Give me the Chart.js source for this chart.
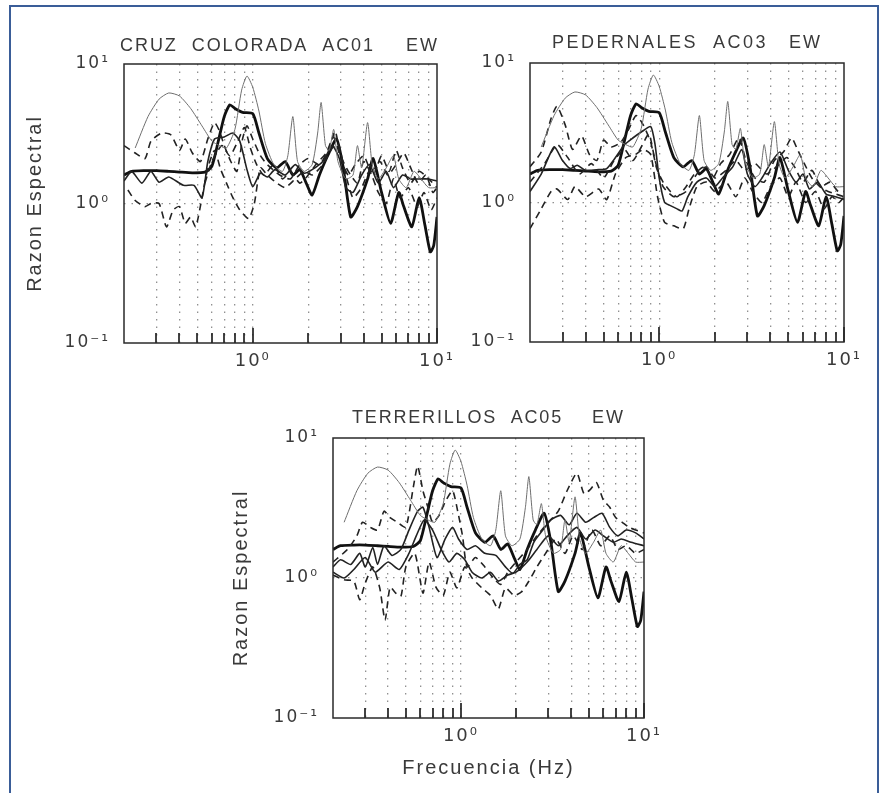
<!DOCTYPE html>
<html>
<head>
<meta charset="utf-8">
<script src="https://cdn.jsdelivr.net/npm/chart.js@4.4.1/dist/chart.umd.min.js"></script>
<style>
  html, body { margin: 0; padding: 0; background: #fff; }
  #page { position: relative; width: 882px; height: 793px; overflow: hidden; background: #fff; }
  #frame { position: absolute; left: 9px; top: 5px; width: 870px; height: 830px; border: 2px solid #3a5d98; box-sizing: border-box; }
  canvas { position: absolute; left: 0; top: 0; }
</style>
</head>
<body>
<div id="page">
  <div id="frame"></div>
  <canvas id="cruz" width="882" height="793"></canvas>
  <canvas id="peder" width="882" height="793"></canvas>
  <canvas id="terr" width="882" height="793"></canvas>
</div>
<script>
// frequency ticks (Hz) and labelled decades
const freqTicks = [0.3, 0.4, 0.5, 0.6, 0.7, 0.8, 0.9, 1, 2, 3, 4, 5, 6, 7, 8, 9, 10];
const ratioTicks = [0.1, 1, 10];
const decadeLabels = { '0.1': '10⁻¹', '1': '10⁰', '10': '10¹' };

// reference curves, identical in the three stations: [freq Hz, spectral ratio]
const refThin = [[0.23,2.5],[0.27,4.2],[0.31,5.6],[0.35,6.2],[0.4,5.9],[0.46,4.8],[0.53,3.6],[0.6,2.8],[0.66,2.6],[0.72,2.5],[0.8,3.4],[0.87,6.5],[0.93,8.2],[1.0,6.8],[1.08,4.6],[1.17,2.7],[1.3,1.9],[1.45,1.7],[1.55,2.2],[1.65,4.2],[1.75,2.0],[1.9,1.7],[2.1,1.9],[2.25,3.2],[2.35,5.3],[2.48,2.6],[2.6,2.4],[2.75,3.4],[2.9,2.0],[3.2,1.5],[3.5,1.6],[3.7,2.6],[3.9,1.8],[4.2,3.8],[4.45,1.9],[4.8,1.5],[5.3,1.8],[5.8,2.2],[6.2,1.5],[6.8,1.3],[7.5,1.7],[8.2,1.5],[9,1.3],[10,1.3]];
const refThick = [[0.2,1.6],[0.22,1.7],[0.26,1.72],[0.3,1.72],[0.35,1.7],[0.4,1.68],[0.47,1.66],[0.55,1.68],[0.6,1.85],[0.65,2.8],[0.7,4.2],[0.75,5.1],[0.8,4.8],[0.88,4.5],[1.0,4.4],[1.08,3.2],[1.2,2.1],[1.35,1.8],[1.5,2.0],[1.65,1.6],[1.8,1.75],[1.95,1.4],[2.1,1.15],[2.3,1.6],[2.55,2.2],[2.85,2.9],[3.1,1.8],[3.4,0.8],[3.7,0.95],[4.2,1.5],[4.5,2.1],[5.0,1.2],[5.6,0.72],[6.2,1.2],[6.6,0.95],[7.3,0.68],[8.0,1.1],[8.6,0.7],[9.2,0.45],[9.6,0.5],[10,0.8]];

// CRUZ COLORADA AC01
const cruzSolid = [[0.2,1.45],[0.22,1.7],[0.25,1.4],[0.28,1.7],[0.31,1.42],[0.35,1.55],[0.42,1.35],[0.48,1.35],[0.53,1.1],[0.57,2.0],[0.62,2.9],[0.7,3.0],[0.78,3.2],[0.85,2.8],[0.93,1.75],[1.0,1.32],[1.1,1.65],[1.2,1.55],[1.32,1.75],[1.5,1.6],[1.7,1.9],[1.9,1.65],[2.1,1.75],[2.4,2.0],[2.7,2.6],[2.95,2.1],[3.2,1.3],[3.5,1.2],[3.9,1.6],[4.3,1.9],[4.8,1.4],[5.3,1.7],[5.8,1.3],[6.5,1.6],[7.2,1.5],[8,1.5],[9,1.5],[10,1.45]];
const cruzDashHi = [[0.2,2.6],[0.23,2.3],[0.26,2.1],[0.28,2.8],[0.32,3.2],[0.36,3.1],[0.4,2.4],[0.43,2.9],[0.47,2.3],[0.52,2.0],[0.57,2.9],[0.62,3.8],[0.66,3.3],[0.7,2.6],[0.76,2.0],[0.82,1.7],[0.88,2.9],[0.93,3.6],[1.0,2.9],[1.1,2.2],[1.2,1.9],[1.4,1.6],[1.6,1.5],[1.8,1.9],[2.0,2.1],[2.3,1.9],[2.6,2.5],[2.8,3.3],[3.0,2.2],[3.3,1.7],[3.7,1.4],[4.0,2.0],[4.5,1.6],[5.0,2.2],[5.5,1.7],[6.0,2.4],[6.5,1.8],[7.2,1.4],[8,1.7],[9,1.5],[10,1.3]];
const cruzDashLo = [[0.21,1.25],[0.23,1.05],[0.26,0.95],[0.28,1.0],[0.31,1.0],[0.34,0.68],[0.37,0.9],[0.4,0.95],[0.43,0.72],[0.46,0.8],[0.49,0.68],[0.53,1.1],[0.57,1.8],[0.62,2.4],[0.67,1.75],[0.72,1.4],[0.78,1.1],[0.85,0.9],[0.95,0.78],[1.02,1.0],[1.1,1.8],[1.2,1.6],[1.35,1.4],[1.5,1.3],[1.7,1.5],[1.9,1.7],[2.1,1.6],[2.4,1.9],[2.7,2.5],[2.9,2.7],[3.2,1.6],[3.5,1.1],[3.9,1.3],[4.3,1.7],[4.8,1.2],[5.3,1.0],[5.8,1.5],[6.3,1.1],[7.0,1.3],[7.8,0.95],[8.5,1.2],[9.3,0.9],[10,1.1]];
const cruzDashMid = [[0.55,1.4],[0.6,2.0],[0.68,2.6],[0.75,2.2],[0.82,2.7],[0.9,3.5],[0.97,2.5],[1.05,1.9],[1.15,1.6],[1.3,1.9],[1.45,1.5],[1.6,1.7],[1.8,1.4],[2.0,1.6],[2.2,1.9],[2.5,2.3],[2.75,3.0],[3.0,2.1],[3.3,1.6],[3.6,1.9],[4.0,2.2],[4.4,1.7],[4.9,2.0],[5.4,1.6],[6.0,1.9],[6.6,2.3],[7.2,1.8],[7.9,1.4],[8.7,1.6],[9.5,1.2],[10,1.3]];

// PEDERNALES AC03
const pederSolid = [[0.2,1.2],[0.23,1.6],[0.27,2.5],[0.3,2.0],[0.33,1.75],[0.36,1.85],[0.4,1.7],[0.47,1.72],[0.52,1.75],[0.58,2.1],[0.65,2.6],[0.72,2.9],[0.8,3.2],[0.9,3.5],[0.95,2.6],[1.0,1.5],[1.07,1.0],[1.15,0.95],[1.25,0.9],[1.33,0.87],[1.43,1.1],[1.6,1.4],[1.8,1.5],[2.0,1.3],[2.2,1.5],[2.5,1.8],[2.8,2.4],[3.0,1.6],[3.3,1.3],[3.6,1.5],[4.0,1.9],[4.5,2.3],[5.0,1.7],[5.5,1.4],[6.0,1.6],[6.5,1.25],[7.2,1.4],[8,1.15],[9,1.1],[10,1.05]];
const pederDashHi = [[0.2,1.8],[0.23,2.3],[0.26,4.0],[0.28,4.9],[0.31,3.6],[0.34,2.4],[0.38,3.0],[0.42,2.2],[0.46,2.0],[0.5,2.8],[0.55,2.5],[0.62,2.7],[0.68,3.3],[0.75,4.2],[0.82,3.6],[0.9,2.7],[0.97,1.75],[1.05,1.4],[1.15,1.2],[1.25,1.1],[1.4,1.3],[1.55,1.6],[1.75,1.8],[1.95,1.5],[2.15,1.9],[2.4,2.2],[2.7,2.9],[2.95,2.0],[3.3,1.5],[3.7,1.4],[4.2,2.0],[4.7,2.3],[5.2,2.9],[5.6,2.4],[6.1,1.9],[6.7,1.5],[7.4,1.3],[8.2,1.2],[9,1.15],[10,1.1]];
const pederDashLo = [[0.2,0.65],[0.23,0.9],[0.26,1.2],[0.28,1.25],[0.32,1.05],[0.35,1.3],[0.4,1.1],[0.47,1.25],[0.52,1.05],[0.58,1.6],[0.66,2.1],[0.74,2.2],[0.82,2.4],[0.9,2.2],[0.98,1.1],[1.07,0.72],[1.2,0.68],[1.35,0.65],[1.45,0.9],[1.6,1.3],[1.8,1.4],[2.0,1.2],[2.3,1.4],[2.6,1.1],[2.9,1.5],[3.2,1.2],[3.6,1.0],[4.0,1.3],[4.5,1.5],[5.0,1.1],[5.5,1.4],[6.2,1.0],[7.0,1.2],[7.8,0.9],[8.6,1.1],[9.4,1.0],[10,1.1]];
const pederDashMid = [[0.2,1.4],[0.24,1.9],[0.28,2.6],[0.32,2.1],[0.37,1.6],[0.43,1.9],[0.5,1.5],[0.57,2.0],[0.65,2.4],[0.72,2.0],[0.8,2.5],[0.88,3.1],[0.95,2.0],[1.05,1.3],[1.2,1.1],[1.4,1.2],[1.6,1.6],[1.8,1.8],[2.0,1.5],[2.3,1.7],[2.6,2.0],[2.9,1.7],[3.3,1.9],[3.8,1.6],[4.3,1.8],[4.9,2.1],[5.4,1.8],[6.0,1.4],[6.7,1.7],[7.5,1.3],[8.4,1.4],[9.3,1.2],[10,1.2]];

// TERRERILLOS AC05
const terrSolidA = [[0.2,1.2],[0.22,1.35],[0.25,1.25],[0.28,1.5],[0.3,1.2],[0.33,1.65],[0.35,1.25],[0.38,1.7],[0.42,1.45],[0.47,1.6],[0.52,2.2],[0.58,3.0],[0.62,3.2],[0.67,2.3],[0.74,1.4],[0.82,1.9],[0.9,2.3],[0.97,1.9],[1.08,1.6],[1.2,1.7],[1.35,1.5],[1.55,1.45],[1.75,1.2],[1.92,1.08],[2.1,1.25],[2.3,1.35],[2.5,1.8],[2.8,2.2],[3.1,2.6],[3.5,2.8],[3.9,2.4],[4.3,2.9],[4.8,2.5],[5.3,2.7],[5.9,2.9],[6.5,2.3],[7.2,2.0],[8,2.2],[9,2.1],[10,1.9]];
const terrSolidB = [[0.2,1.1],[0.23,1.0],[0.26,1.15],[0.3,1.4],[0.34,1.1],[0.4,1.3],[0.46,1.15],[0.52,1.5],[0.57,2.0],[0.63,2.6],[0.7,2.2],[0.78,1.6],[0.86,1.3],[0.95,1.5],[1.05,1.35],[1.15,1.1],[1.3,1.0],[1.45,1.1],[1.6,0.95],[1.8,1.05],[2.0,1.1],[2.3,1.3],[2.6,1.6],[3.0,2.0],[3.4,1.7],[3.8,2.0],[4.3,2.3],[4.8,1.9],[5.4,2.2],[6.0,2.0],[6.8,1.8],[7.5,1.9],[8.5,1.8],[10,1.7]];
const terrDashHi = [[0.2,1.3],[0.24,1.6],[0.27,2.0],[0.29,2.5],[0.32,2.3],[0.35,2.2],[0.38,3.0],[0.41,2.7],[0.45,2.5],[0.5,2.3],[0.55,4.5],[0.58,6.3],[0.62,4.2],[0.66,3.2],[0.7,2.5],[0.76,2.8],[0.82,3.5],[0.9,4.2],[0.96,3.0],[1.02,2.0],[1.08,1.2],[1.2,1.4],[1.35,1.2],[1.5,1.0],[1.65,0.9],[1.8,1.1],[2.0,1.3],[2.3,1.6],[2.6,2.0],[3.0,2.5],[3.4,3.0],[3.8,4.2],[4.3,5.6],[4.7,4.0],[5.1,4.3],[5.5,4.8],[6.0,3.6],[6.5,3.2],[7.0,2.7],[7.6,2.5],[8.3,2.3],[9,2.2],[10,2.1]];
const terrDashLo = [[0.2,1.05],[0.23,0.97],[0.26,0.95],[0.28,0.7],[0.3,0.92],[0.33,1.2],[0.36,0.85],[0.385,0.5],[0.41,0.86],[0.44,0.78],[0.47,0.74],[0.5,1.2],[0.56,1.5],[0.62,0.78],[0.67,1.3],[0.73,0.86],[0.8,0.75],[0.87,1.1],[0.95,0.85],[1.05,1.2],[1.15,1.0],[1.3,0.85],[1.45,0.75],[1.6,0.6],[1.75,0.85],[1.95,0.75],[2.15,0.8],[2.35,0.95],[2.6,1.2],[2.9,1.5],[3.3,1.9],[3.7,1.5],[4.1,2.0],[4.6,1.6],[5.2,2.2],[5.8,1.7],[6.5,2.0],[7.2,1.6],[8.0,1.7],[9,1.5],[10,1.6]];

// line styles
const styles = {
    thin:  { borderColor: '#6e6e6e', borderWidth: 1 },
    thick: { borderColor: '#111', borderWidth: 2.8 },
    solid: { borderColor: '#222', borderWidth: 1.6 },
    dash:  { borderColor: '#222', borderWidth: 1.6, borderDash: [7, 5] }
};

function series(points, kind) {
    return Object.assign({
        data: points.map(p => ({ x: p[0], y: p[1] })),
        pointRadius: 0,
        tension: 0.2,
        fill: false
    }, styles[kind]);
}

// frame, inward frequency ticks and station title
const panelDecor = {
    id: 'panelDecor',
    beforeDraw(chart) {
        chart.ctx.letterSpacing = '2px';
    },
    afterDraw(chart, args, opts) {
        const { ctx, chartArea: a, scales: { x } } = chart;
        ctx.save();
        ctx.strokeStyle = '#222';
        ctx.lineWidth = 1.7;
        freqTicks.forEach(f => {
            const px = Math.round(x.getPixelForValue(f));
            const len = (f === 1 || f === 10) ? 15 : 10;
            ctx.beginPath();
            ctx.moveTo(px, a.bottom);
            ctx.lineTo(px, a.bottom - len);
            ctx.stroke();
        });
        ctx.lineWidth = 1.5;
        ctx.strokeStyle = '#2a2a2a';
        ctx.strokeRect(a.left, a.top, a.right - a.left, a.bottom - a.top);

        ctx.fillStyle = '#3a3a3a';
        ctx.font = '18px "Liberation Sans", Arial, sans-serif';
        ctx.textBaseline = 'alphabetic';
        ctx.textAlign = 'left';
        ctx.letterSpacing = '0px';
        const w = ctx.measureText(opts.name).width;
        ctx.letterSpacing = ((opts.nameWidth - w) / opts.name.length) + 'px';
        ctx.fillText(opts.name, opts.nameX, opts.baseY);
        ctx.letterSpacing = '2px';
        ctx.textAlign = 'right';
        ctx.fillText('EW', opts.compRight + 2, opts.baseY);
        ctx.restore();
    }
};

const tickFont = { family: '"DejaVu Sans", sans-serif', size: 17 };
const titleFont = { family: '"Liberation Sans", Arial, sans-serif', size: 20 };

function makePanel(id, box, sets, title, yW, xH, showY, showX) {
    return new Chart(document.getElementById(id), {
        type: 'line',
        data: { datasets: sets },
        plugins: [panelDecor],
        options: {
            responsive: false,
            animation: false,
            events: [],
            layout: { padding: { left: box.left - yW, top: box.top, right: 882 - box.right, bottom: 793 - box.bottom - xH } },
            plugins: { legend: { display: false }, tooltip: { enabled: false }, panelDecor: title },
            scales: {
                x: {
                    type: 'logarithmic', min: 0.2, max: 10,
                    afterBuildTicks: s => { s.ticks = freqTicks.map(v => ({ value: v })); },
                    afterFit: s => { s.height = xH; },
                    ticks: {
                        autoSkip: false, maxRotation: 0, minRotation: 0, padding: 8,
                        color: '#3a3a3a', font: { family: tickFont.family, size: 18 },
                        callback: v => decadeLabels[String(v)] || ''
                    },
                    grid: {
                        drawTicks: false, lineWidth: 1.3,
                        color: c => (c.tick && c.tick.value === 10) ? 'rgba(0,0,0,0)' : 'rgba(70,70,70,0.6)'
                    },
                    border: { display: false, dash: [1.5, 6] },
                    title: { display: showX, text: 'Frecuencia (Hz)', color: '#3a3a3a', font: titleFont, padding: 0 }
                },
                y: {
                    type: 'logarithmic', min: 0.1, max: 10,
                    afterBuildTicks: s => { s.ticks = ratioTicks.map(v => ({ value: v })); },
                    afterFit: s => { s.width = yW; },
                    ticks: {
                        padding: 14, color: '#3a3a3a', font: tickFont,
                        callback: v => decadeLabels[String(v)] || ''
                    },
                    grid: {
                        drawTicks: false, lineWidth: 1.3,
                        color: c => (c.tick && c.tick.value === 1) ? 'rgba(70,70,70,0.6)' : 'rgba(0,0,0,0)'
                    },
                    border: { display: false, dash: [1.5, 6] },
                    title: { display: showY, text: 'Razon Espectral', color: '#3a3a3a', font: titleFont, padding: 0 }
                }
            }
        }
    });
}

makePanel('cruz', { left: 124, top: 64, right: 437, bottom: 343 }, [
    series(refThin, 'thin'),
    series(cruzDashHi, 'dash'),
    series(cruzDashLo, 'dash'),
    series(cruzDashMid, 'dash'),
    series(cruzSolid, 'solid'),
    series(refThick, 'thick')
], { name: 'CRUZ  COLORADA  AC01', nameX: 120, nameWidth: 255, compRight: 437, baseY: 51 }, 101, 40, true, false);

makePanel('peder', { left: 530, top: 63, right: 844, bottom: 342 }, [
    series(refThin, 'thin'),
    series(pederDashHi, 'dash'),
    series(pederDashLo, 'dash'),
    series(pederDashMid, 'dash'),
    series(pederSolid, 'solid'),
    series(refThick, 'thick')
], { name: 'PEDERNALES  AC03', nameX: 552, nameWidth: 216, compRight: 820, baseY: 48 }, 60, 40, false, false);

makePanel('terr', { left: 333, top: 438, right: 644, bottom: 718 }, [
    series(refThin, 'thin'),
    series(terrDashHi, 'dash'),
    series(terrDashLo, 'dash'),
    series(terrSolidB, 'solid'),
    series(terrSolidA, 'solid'),
    series(refThick, 'thick')
], { name: 'TERRERILLOS  AC05', nameX: 352, nameWidth: 211, compRight: 623, baseY: 423 }, 104, 62, true, true);
</script>
</body>
</html>
